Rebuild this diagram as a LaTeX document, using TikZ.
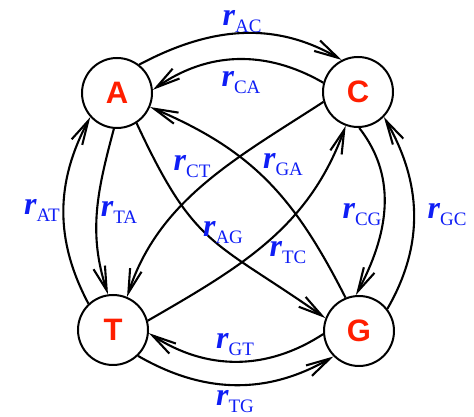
\documentclass[tikz,border=0pt]{standalone}
\usepackage{fontspec}
\setmainfont{Liberation Serif}
\newfontfamily\nodefont{Liberation Sans}
\usetikzlibrary{arrows.meta}
\definecolor{lblue}{RGB}{15,30,245}
\definecolor{nred}{RGB}{255,30,0}
\newcommand\rlab[1]{{\fontsize{32}{32}\selectfont\bfseries\itshape r}\raisebox{-7pt}{\fontsize{19}{19}\selectfont #1}}
\begin{document}
\begin{tikzpicture}[x=1pt,y=1pt,
  state/.style={circle,draw,line width=2pt,minimum size=70pt,inner sep=0pt,
    font=\nodefont\bfseries\fontsize{31}{31}\selectfont,text=nred},
  edge/.style={line width=2.1pt,-{Straight Barb[length=24pt,width=12pt]}},
  lab/.style={text=lblue,inner sep=0pt}]
\useasboundingbox (0,0) rectangle (474,417);
\node[state] (A) at (117,324) {A};
\node[state] (C) at (358,325) {C};
\node[state] (T) at (113,87) {T};
\node[state] (G) at (359,86) {G};
% top
\draw[edge] (A.52) to[out=28,in=150] (C.117);
\draw[edge] (C.165) to[out=150,in=35] (A.5);
% left
\draw[edge] (T.133) to[out=118,in=242] (A.222);
\draw[edge] (A.-95) to[out=-105,in=108] (T.98);
% right
\draw[edge] (C.-88) to[out=-52,in=62] (G.95);
\draw[edge] (G.38) to[out=60,in=-60] (C.-44);
% bottom
\draw[edge] (G.185) to[out=-147,in=-33] (T.-5);
\draw[edge] (T.-46) to[out=-30,in=-150] (G.-135);
% diagonals
\draw[edge] (A.-57) to[out=-65,in=145,looseness=1.3] (G.159);
\draw[edge] (C.196) to[out=-147,in=72,looseness=0.95] (T.67);
\draw[edge] (G.112) to[out=117,in=-23,looseness=1.05] (A.-23);
\draw[edge] (T.15) to[out=30,in=-110] (C.-110);
% labels
\node[lab] (lAC) at (242,395) {\rlab{AC}};
\node[lab] (lCA) at (241,334) {\rlab{CA}};
\node[lab] (lAT) at (42,207) {\rlab{AT}};
\node[lab] (lTA) at (119,205) {\rlab{TA}};
\node[lab] (lCG) at (362,202) {\rlab{CG}};
\node[lab] (lGC) at (447,202) {\rlab{GC}};
\node[lab] (lGT) at (235,72) {\rlab{GT}};
\node[lab] (lTG) at (235,15) {\rlab{TG}};
\node[lab] (lCT) at (192,250) {\rlab{CT}};
\node[lab] (lGA) at (283,252) {\rlab{GA}};
\node[lab] (lAG) at (223,184) {\rlab{AG}};
\node[lab] (lTC) at (288,164) {\rlab{TC}};
\end{tikzpicture}
\end{document}
